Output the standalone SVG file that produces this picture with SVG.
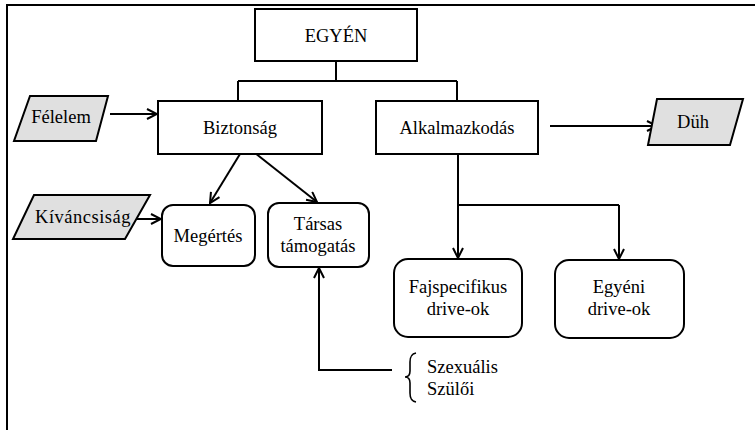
<svg xmlns="http://www.w3.org/2000/svg" width="755" height="430" viewBox="0 0 755 430">
<style>
.box{fill:#fff;stroke:#000;stroke-width:2}
.para{fill:#e0e0e0;stroke:#000;stroke-width:2}
text{font-family:'Liberation Serif','DejaVu Serif',serif;font-size:18.5px;fill:#000}
.t{text-anchor:middle}
.c{fill:none;stroke:#000;stroke-width:2}
.ca{fill:none;stroke:#000;stroke-width:2;marker-end:url(#arr)}
</style>
<defs>
<marker id="arr" viewBox="0 0 12 12" refX="11" refY="6" markerWidth="12" markerHeight="12" markerUnits="userSpaceOnUse" orient="auto">
<path d="M1,1 L11,6 L1,11" fill="none" stroke="#000" stroke-width="2"/>
</marker>
</defs>
<g id="frame">
<path d="M7,430 L7,5 L755,5" fill="none" stroke="#000" stroke-width="2"/>
</g>
<g id="connectors">
<path class="c" d="M336,61 L336,81 M238,81 L457,81 M238,81 L238,101 M457,81 L457,101"/>
<path class="ca" d="M110,114 L157,114"/>
<path class="ca" d="M550,126 L657,126"/>
<path class="ca" d="M137,219 L161,219"/>
<path class="ca" d="M240,154 L210,203"/>
<path class="ca" d="M255,153 L317,202"/>
<path class="ca" d="M392,370 L319,370 L319,268"/>
<path class="c" d="M458,154 L458,205 L619,205"/>
<path class="ca" d="M458,205 L458,258"/>
<path class="ca" d="M619,205 L619,259"/>
</g>
<g id="egyen">
<rect class="box" x="255" y="9" width="162" height="52"/>
<text class="t" x="336" y="42" font-family="Liberation Serif">EGYÉN</text>
</g>
<g id="biztonsag">
<rect class="box" x="158" y="101" width="164" height="53"/>
<text class="t" x="240" y="134" font-family="Liberation Serif">Biztonság</text>
</g>
<g id="alkalmazkodas">
<rect class="box" x="376" y="101" width="162" height="53"/>
<text class="t" x="457" y="134" font-family="Liberation Serif">Alkalmazkodás</text>
</g>
<g id="felelem">
<polygon class="para" points="30,96 108,96 96,141 14,141"/>
<text class="t" x="61" y="123" font-family="Liberation Serif">Félelem</text>
</g>
<g id="duh">
<polygon class="para" points="657,99 743,99 730,145 648,145"/>
<text class="t" x="693" y="128" font-family="Liberation Serif">Düh</text>
</g>
<g id="kivancsisag">
<polygon class="para" points="34,195 150,195 125,239 13,239"/>
<text class="t" x="83" y="223" font-family="Liberation Serif" letter-spacing="0.5">Kíváncsiság</text>
</g>
<g id="megertes">
<rect class="box" x="162" y="205" width="93" height="61" rx="11"/>
<text class="t" x="208" y="242" font-family="Liberation Serif">Megértés</text>
</g>
<g id="tarsas">
<rect class="box" x="268" y="203" width="101" height="64" rx="11"/>
<text class="t" x="318" y="230" font-family="Liberation Serif">Társas</text>
<text class="t" x="318" y="252" font-family="Liberation Serif">támogatás</text>
</g>
<g id="fajspecifikus">
<rect class="box" x="394" y="259" width="128" height="78" rx="14"/>
<text class="t" x="458" y="293" font-family="Liberation Serif">Fajspecifikus</text>
<text class="t" x="458" y="315" font-family="Liberation Serif">drive-ok</text>
</g>
<g id="egyeni">
<rect class="box" x="555" y="260" width="129" height="78" rx="14"/>
<text class="t" x="619" y="293" font-family="Liberation Serif">Egyéni</text>
<text class="t" x="619" y="315" font-family="Liberation Serif">drive-ok</text>
</g>
<g id="szexualis">
<path d="M416,353 C411,354 410,357 410,362 L410,371 C410,375 408,377 405,377 C408,377 410,379 410,383 L410,393 C410,398 411,401 416,402" fill="none" stroke="#000" stroke-width="1.6"/>
<text x="427" y="373" font-family="Liberation Serif">Szexuális</text>
<text x="427" y="395" font-family="Liberation Serif">Szülői</text>
</g>
</svg>
